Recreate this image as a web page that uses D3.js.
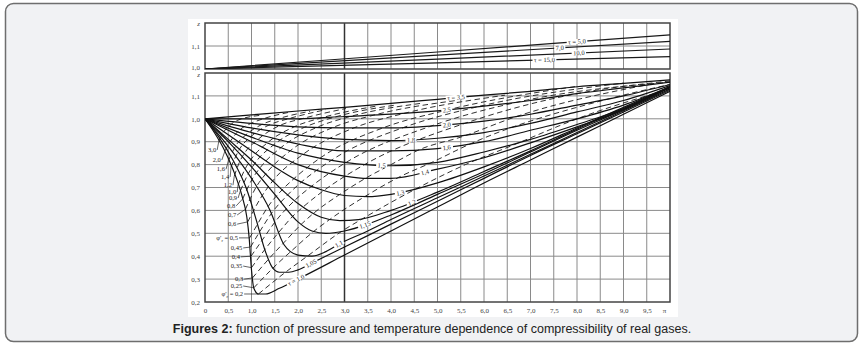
<!DOCTYPE html>
<html>
<head>
<meta charset="utf-8">
<script src="https://cdn.jsdelivr.net/npm/d3@7"></script>
<style>
  body { margin: 0; background: #fff; }
  svg { display: block; font-family: "Liberation Serif", "DejaVu Serif", serif; }
</style>
</head>
<body>
<div id="chart"></div>
<script>
// ---- ticks ----
const xTickValues = [0, 0.5, 1, 1.5, 2, 2.5, 3, 3.5, 4, 4.5, 5, 5.5, 6, 6.5, 7, 7.5, 8, 8.5, 9, 9.5, 10];
const xTickLabels = ['0', '0,5', '1,0', '1,5', '2,0', '2,5', '3,0', '3,5', '4,0', '4,5', '5,0', '5,5', '6,0', '6,5', '7,0', '7,5', '8,0', '8,5', '9,0', '9,5', 'π'];
const topTickValues = [1.0, 1.1, 1.2];
const topTickLabels = ['1,0', '1,1', 'z'];
const botTickValues = [0.2, 0.3, 0.4, 0.5, 0.6, 0.7, 0.8, 0.9, 1.0, 1.1, 1.2];
const botTickLabels = ['0,2', '0,3', '0,4', '0,5', '0,6', '0,7', '0,8', '0,9', '1,0', '1,1', 'z'];

// ---- upper panel: high reduced temperatures ----
const topLabels = ['τ = 5,0', '7,0', '10,0', 'τ = 15,0'];
const topLabelAt = [8.0, 7.63, 8.04, 7.3];
const top50 = [[0, 1.0], [5, 1.074], [10, 1.148]];
const top70 = [[0, 1.0], [5, 1.06], [10, 1.12]];
const top100 = [[0, 1.0], [5, 1.043], [10, 1.087]];
const top150 = [[0, 1.0], [5, 1.027], [10, 1.054]];

// ---- lower panel: isotherms (solid) ----
const isoLabels = ['τ = 1,0', '1,05', '1,1', '1,15', '1,2', '1,3', '1,4', '1,5', '1,6', '1,8', '2,0', '2,5', 'τ = 3,5'];
const isoLabelAt = [1.96, 2.28, 2.88, 3.44, 4.45, 4.2, 4.73, 3.8, 5.2, 4.43, 5.2, 5.2, 5.4];
const iso10 = [[0, 1.0], [0.2, 0.94], [0.4, 0.87], [0.6, 0.78], [0.8, 0.66], [0.9, 0.57], [0.95, 0.48], [1.0, 0.34], [1.05, 0.26], [1.15, 0.235], [1.3, 0.235], [1.6, 0.26], [2.0, 0.30], [3, 0.405], [4, 0.51], [5, 0.615], [6, 0.72], [7, 0.82], [8, 0.92], [9, 1.02], [10, 1.12]];
const iso105 = [[0, 1.0], [0.3, 0.92], [0.6, 0.82], [0.9, 0.69], [1.1, 0.56], [1.3, 0.42], [1.45, 0.35], [1.6, 0.33], [1.8, 0.33], [2.0, 0.34], [2.3, 0.37], [3, 0.44], [4, 0.54], [5, 0.64], [6, 0.74], [7, 0.84], [8, 0.935], [9, 1.03], [10, 1.125]];
const iso11 = [[0, 1.0], [0.5, 0.88], [1.0, 0.74], [1.4, 0.6], [1.7, 0.45], [2.0, 0.405], [2.3, 0.40], [2.6, 0.42], [2.9, 0.455], [3.5, 0.51], [4, 0.56], [5, 0.655], [6, 0.75], [7, 0.845], [8, 0.94], [9, 1.035], [10, 1.13]];
const iso115 = [[0, 1.0], [0.5, 0.9], [1, 0.79], [1.5, 0.67], [2.0, 0.55], [2.3, 0.51], [2.6, 0.50], [3.0, 0.51], [3.5, 0.54], [4, 0.58], [5, 0.67], [6, 0.76], [7, 0.855], [8, 0.95], [9, 1.04], [10, 1.135]];
const iso12 = [[0, 1.0], [0.5, 0.91], [1, 0.82], [1.5, 0.72], [2, 0.63], [2.5, 0.57], [2.9, 0.555], [3.3, 0.56], [4, 0.60], [5, 0.68], [6, 0.77], [7, 0.86], [8, 0.955], [9, 1.045], [10, 1.14]];
const iso13 = [[0, 1.0], [0.5, 0.93], [1, 0.86], [1.5, 0.79], [2, 0.73], [2.5, 0.69], [3, 0.665], [3.5, 0.66], [4, 0.67], [5, 0.72], [6, 0.79], [7, 0.87], [8, 0.96], [9, 1.05], [10, 1.14]];
const iso14 = [[0, 1.0], [1, 0.9], [2, 0.8], [3, 0.75], [3.5, 0.74], [4, 0.74], [5, 0.78], [6, 0.83], [7, 0.895], [8, 0.965], [9, 1.04], [10, 1.14]];
const iso15 = [[0, 1.0], [1, 0.92], [2, 0.85], [3, 0.81], [4, 0.795], [5, 0.81], [6, 0.855], [7, 0.91], [8, 0.975], [9, 1.045], [10, 1.14]];
const iso16 = [[0, 1.0], [1, 0.94], [2, 0.89], [3, 0.86], [4, 0.86], [5, 0.87], [6, 0.9], [7, 0.95], [8, 1.0], [9, 1.06], [10, 1.14]];
const iso18 = [[0, 1.0], [1, 0.96], [2, 0.93], [3, 0.91], [4, 0.905], [5, 0.915], [6, 0.94], [7, 0.98], [8, 1.03], [9, 1.08], [10, 1.145]];
const iso20 = [[0, 1.0], [1, 0.98], [2, 0.965], [3, 0.96], [4, 0.96], [5, 0.97], [6, 0.99], [7, 1.02], [8, 1.06], [9, 1.1], [10, 1.15]];
const iso25 = [[0, 1.0], [1, 1.0], [2, 1.0], [3, 1.01], [4, 1.02], [5, 1.035], [6, 1.055], [7, 1.08], [8, 1.11], [9, 1.135], [10, 1.16]];
const iso35 = [[0, 1.0], [1, 1.017], [2, 1.034], [3, 1.05], [4, 1.067], [5, 1.085], [6, 1.103], [7, 1.12], [8, 1.14], [9, 1.155], [10, 1.17]];

// ---- lower panel: constant reduced volume (dashed) ----
const volLabels = ['3,0', '2,0', '1,6', '1,4', '1,2', '1,0', '0,9', '0,8', '0,7', '0,6', 'φr = 0,5', '0,45', '0,4', '0,35', '0,3', '0,25', 'φr = 0,2'];
// right end of each label, [pi, z]
const volLabelAt = [[0.24, 0.864], [0.34, 0.82], [0.43, 0.78], [0.52, 0.746], [0.58, 0.71], [0.67, 0.68], [0.69, 0.654], [0.65, 0.62], [0.67, 0.58], [0.67, 0.54], [0.71, 0.48], [0.8, 0.436], [0.75, 0.397], [0.8, 0.357], [0.82, 0.30], [0.8, 0.27], [0.82, 0.235]];
const v30 = [[0.3, 0.905], [0.37, 0.935], [0.48, 0.96], [0.66, 0.99], [1.18, 1.015]];
const v20 = [[0.43, 0.86], [0.54, 0.9], [0.71, 0.945], [0.99, 0.98], [1.25, 1.0], [1.8, 1.028]];
const v16 = [[0.51, 0.82], [0.67, 0.885], [0.88, 0.93], [1.22, 0.975], [1.57, 1.0], [2.26, 1.033]];
const v14 = [[0.56, 0.79], [0.75, 0.87], [0.99, 0.923], [1.4, 0.975], [1.79, 1.0], [2.6, 1.04]];
const v12 = [[0.63, 0.75], [0.74, 0.81], [0.85, 0.85], [1.14, 0.91], [1.62, 0.972], [2.08, 1.0], [3.03, 1.045]];
const v10 = [[0.71, 0.71], [0.86, 0.78], [0.98, 0.82], [1.34, 0.895], [1.93, 0.966], [2.52, 1.005], [3.67, 1.055]];
const v09 = [[0.76, 0.685], [0.93, 0.76], [1.07, 0.805], [1.48, 0.887], [2.14, 0.963], [2.8, 1.008], [4.1, 1.06]];
const v08 = [[0.81, 0.65], [1.01, 0.735], [1.18, 0.785], [1.65, 0.877], [2.41, 0.963], [3.16, 1.012], [4.66, 1.068]];
const v07 = [[0.87, 0.605], [1.1, 0.702], [1.3, 0.758], [1.85, 0.863], [2.75, 0.962], [3.63, 1.016], [5.4, 1.08]];
const v06 = [[0.92, 0.55], [1.2, 0.655], [1.45, 0.727], [2.11, 0.845], [3.2, 0.96], [4.25, 1.022], [6.45, 1.103]];
const v05 = [[0.96, 0.48], [1.13, 0.54], [1.35, 0.615], [1.66, 0.69], [1.92, 0.74], [2.5, 0.832], [3.85, 0.962], [5.18, 1.037], [8.0, 1.142]];
const v045 = [[0.98, 0.44], [1.17, 0.505], [1.44, 0.59], [1.79, 0.67], [2.75, 0.823], [4.27, 0.962], [5.85, 1.052], [9.0, 1.156]];
const v04 = [[0.99, 0.40], [1.23, 0.47], [1.5, 0.548], [1.92, 0.642], [2.3, 0.707], [3.03, 0.809], [4.83, 0.966], [6.7, 1.072], [10, 1.16]];
const v035 = [[1.0, 0.35], [1.29, 0.43], [1.61, 0.51], [1.89, 0.575], [2.11, 0.615], [2.55, 0.686], [3.44, 0.801], [5.6, 0.981], [7.9, 1.106], [10, 1.165]];
const v03 = [[1.02, 0.305], [1.38, 0.39], [1.7, 0.46], [2.1, 0.545], [2.35, 0.59], [2.9, 0.67], [3.45, 0.74], [4.0, 0.80], [4.62, 0.866], [5.5, 0.92], [6.7, 1.01], [9.55, 1.15]];
const v025 = [[1.05, 0.262], [1.46, 0.348], [1.87, 0.425], [2.33, 0.507], [2.7, 0.563], [3.45, 0.662], [4.2, 0.748], [4.85, 0.807], [5.7, 0.89], [8.7, 1.088], [10, 1.15]];
const v02 = [[1.15, 0.235], [1.75, 0.333], [2.2, 0.40], [2.95, 0.51], [3.4, 0.565], [4.5, 0.69], [5.6, 0.80], [6.65, 0.887], [8, 1.0], [10, 1.13]];

const topLines = [top50, top70, top100, top150];
const isotherms = [iso10, iso105, iso11, iso115, iso12, iso13, iso14, iso15, iso16, iso18, iso20, iso25, iso35];
const volumes = [v30, v20, v16, v14, v12, v10, v09, v08, v07, v06, v05, v045, v04, v035, v03, v025, v02];

const width = 863;
const height = 347;

const svg = d3.select('#chart')
  .append('svg')
  .attr('width', width)
  .attr('height', height);

// page frame
svg.append('rect')
  .attr('x', 5.5).attr('y', 3.5)
  .attr('width', 852).attr('height', 338)
  .attr('rx', 8)
  .attr('fill', '#f1f2f4')
  .attr('stroke', '#6e6e6e')
  .attr('stroke-width', 1.5);

// white picture area
svg.append('rect')
  .attr('x', 188).attr('y', 19)
  .attr('width', 490).attr('height', 298)
  .attr('fill', '#fff');

const x = d3.scaleLinear().domain([0, 10]).range([205, 670]);
const yTop = d3.scaleLinear().domain([1.0, 1.2]).range([69, 23]);
const yBot = d3.scaleLinear().domain([0.2, 1.2]).range([302, 73]);

const defs = svg.append('defs');
[['clipTop', yTop], ['clipBot', yBot]].forEach(([id, y]) => {
  defs.append('clipPath').attr('id', id)
    .append('rect')
    .attr('x', x(0)).attr('y', y.range()[1])
    .attr('width', x(10) - x(0)).attr('height', y.range()[0] - y.range()[1]);
});

const drawGrid = (y, yVals) => {
  const g = svg.append('g');
  g.selectAll('line.h')
    .data(yVals.slice(1, -1))
    .join('line')
    .attr('x1', x(0)).attr('x2', x(10))
    .attr('y1', (d) => y(d)).attr('y2', (d) => y(d))
    .attr('stroke', '#8a8a8a')
    .attr('stroke-width', 1);
  g.selectAll('line.v')
    .data(xTickValues.slice(1, -1))
    .join('line')
    .attr('x1', (d) => x(d)).attr('x2', (d) => x(d))
    .attr('y1', y.range()[0]).attr('y2', y.range()[1])
    .attr('stroke', (d) => (d === 3 ? '#333' : '#8a8a8a'))
    .attr('stroke-width', (d) => (d === 3 ? 1.5 : 1));
  g.append('rect')
    .attr('x', x(0)).attr('y', y.range()[1])
    .attr('width', x(10) - x(0)).attr('height', y.range()[0] - y.range()[1])
    .attr('fill', 'none')
    .attr('stroke', '#444')
    .attr('stroke-width', 1.5);
};

drawGrid(yTop, topTickValues);
drawGrid(yBot, botTickValues);

// y axes (labels only)
const yAxisGroup = (y, vals, labels, shift) => {
  const g = svg.append('g')
    .attr('transform', `translate(${x(0)},0)`)
    .call(d3.axisLeft(y).tickValues(vals).tickFormat((d, i) => labels[i]).tickSize(0).tickPadding(5));
  g.select('.domain').remove();
  g.selectAll('text')
    .attr('font-family', '"Liberation Serif", serif')
    .attr('font-size', 7)
    .attr('fill', '#444')
    .attr('y', (d, i) => shift[i] || 0)
    .attr('font-style', (d, i) => (labels[i] === 'z' ? 'italic' : null));
};
yAxisGroup(yTop, topTickValues, topTickLabels, [-1.5, 0, 0]);
yAxisGroup(yBot, botTickValues, botTickLabels, [0, 0, 0, 0, 0, 0, 0, 0, 0, 0, 1.5]);

// x axis
const xAxisGroup = svg.append('g')
  .attr('transform', `translate(0,${yBot(0.2)})`)
  .call(d3.axisBottom(x).tickValues(xTickValues).tickFormat((d, i) => xTickLabels[i]).tickSize(0).tickPadding(6));
xAxisGroup.select('.domain').remove();
xAxisGroup.selectAll('text')
  .attr('font-family', '"Liberation Serif", serif')
  .attr('font-size', 7)
  .attr('fill', '#444')
  .attr('dx', (d) => (d === 10 ? -6 : 0));

const lineFor = (y) => d3.line()
  .x((d) => x(d[0]))
  .y((d) => y(d[1]))
  .curve(d3.curveMonotoneX);

// label placed on a path at a given pi, rotated along it, white box behind
const labelOnPath = (g, node, atPi, text) => {
  const L = node.getTotalLength();
  const tx = x(atPi);
  let lo = 0;
  let hi = L;
  for (let i = 0; i < 30; i++) {
    const mid = (lo + hi) / 2;
    if (node.getPointAtLength(mid).x < tx) lo = mid; else hi = mid;
  }
  const p = node.getPointAtLength(lo);
  const a = node.getPointAtLength(Math.max(0, lo - 4));
  const b = node.getPointAtLength(Math.min(L, lo + 4));
  const ang = Math.atan2(b.y - a.y, b.x - a.x) * 180 / Math.PI;
  const lg = g.append('g').attr('transform', `translate(${p.x},${p.y}) rotate(${ang})`);
  const t = lg.append('text')
    .attr('text-anchor', 'middle')
    .attr('dy', '0.33em')
    .attr('font-size', 6.5)
    .attr('fill', '#222')
    .text(text);
  const bb = t.node().getBBox();
  lg.insert('rect', 'text')
    .attr('x', bb.x - 1.5).attr('y', bb.y + 1)
    .attr('width', bb.width + 3).attr('height', bb.height - 2)
    .attr('fill', '#fff');
};

// upper panel
const topG = svg.append('g').attr('clip-path', 'url(#clipTop)');
const topPaths = topG.selectAll('path')
  .data(topLines)
  .join('path')
  .attr('d', lineFor(yTop))
  .attr('fill', 'none')
  .attr('stroke', '#1a1a1a')
  .attr('stroke-width', 1.2);
const topLabelG = svg.append('g');
topPaths.each(function(_, i) {
  labelOnPath(topLabelG, this, topLabelAt[i], topLabels[i]);
});

// lower panel
const botG = svg.append('g').attr('clip-path', 'url(#clipBot)');
botG.selectAll('path.vol')
  .data(volumes)
  .join('path')
  .attr('class', 'vol')
  .attr('d', lineFor(yBot))
  .attr('fill', 'none')
  .attr('stroke', '#1a1a1a')
  .attr('stroke-width', 0.9)
  .attr('stroke-dasharray', '5.5,3.5');

const isoPaths = botG.selectAll('path.iso')
  .data(isotherms)
  .join('path')
  .attr('class', 'iso')
  .attr('d', lineFor(yBot))
  .attr('fill', 'none')
  .attr('stroke', '#111')
  .attr('stroke-width', 1.2);

const isoLabelG = svg.append('g');
isoPaths.each(function(_, i) {
  labelOnPath(isoLabelG, this, isoLabelAt[i], isoLabels[i]);
});

// reduced-volume labels in a column left of the dashed lines, with leaders
const volLabelG = svg.append('g')
  .attr('font-size', 6.5)
  .attr('fill', '#222');
volumes.forEach((pts, i) => {
  const px = x(pts[0][0]);
  const py = yBot(pts[0][1]);
  const lx = x(volLabelAt[i][0]);
  const ly = yBot(volLabelAt[i][1]);
  volLabelG.append('line')
    .attr('x1', lx + 1).attr('x2', px)
    .attr('y1', ly).attr('y2', py)
    .attr('stroke', '#222').attr('stroke-width', 0.7);
  const t = volLabelG.append('text')
    .attr('x', lx).attr('y', ly + 2.2)
    .attr('text-anchor', 'end');
  const lab = volLabels[i];
  if (lab.startsWith('φr')) {
    t.append('tspan').text('φ′');
    t.append('tspan').attr('font-size', 4.5).attr('dy', 1.5).text('r');
    t.append('tspan').attr('dy', -1.5).text(lab.slice(2));
  } else {
    t.text(lab);
  }
});

// caption
const cap = svg.append('text')
  .attr('x', 432)
  .attr('y', 333)
  .attr('text-anchor', 'middle')
  .style('font-family', '"Liberation Sans", Arial, sans-serif')
  .style('font-size', '12.5px')
  .attr('fill', '#222');
cap.append('tspan').attr('font-weight', 'bold').text('Figures 2:');
cap.append('tspan').text(' function of pressure and temperature dependence of compressibility of real gases.');
</script>
</body>
</html>
